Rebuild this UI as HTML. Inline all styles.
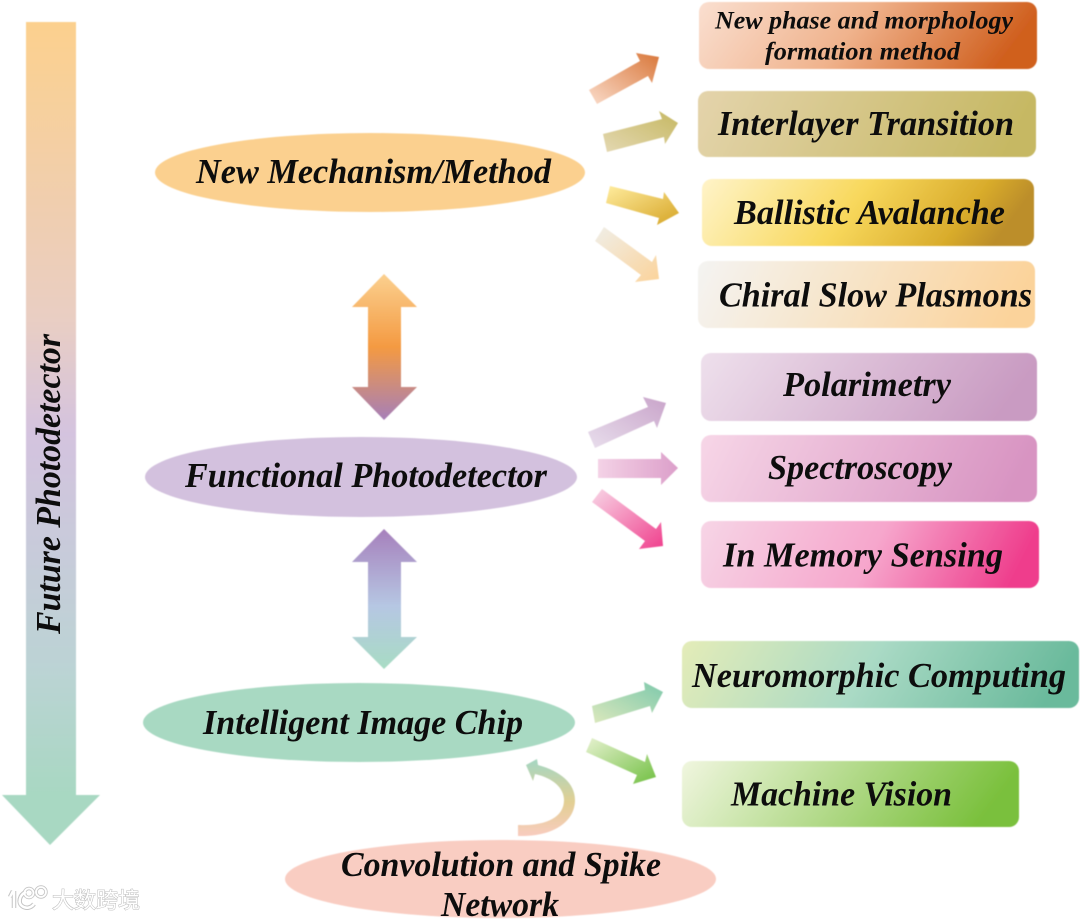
<!DOCTYPE html>
<html lang="en"><head><meta charset="utf-8"><title>Future Photodetector</title>
<style>
html,body{margin:0;padding:0;background:#fff;width:1080px;height:920px;overflow:hidden}
svg{display:block}
.t{font-family:"Liberation Serif",serif;font-weight:bold;font-style:italic;fill:#0b0b0b;font-size:35px}
.wm{font-family:"Noto Sans CJK SC","WenQuanYi Zen Hei",sans-serif;font-size:22px;fill:#fff;stroke:#bbb;stroke-width:1px;paint-order:stroke}
</style></head><body>
<svg width="1080" height="920" viewBox="0 0 1080 920" xmlns="http://www.w3.org/2000/svg">
<defs>
<filter id="b" x="-5%" y="-5%" width="110%" height="110%"><feGaussianBlur stdDeviation="0.5"/></filter>
<filter id="bt" x="-5%" y="-20%" width="110%" height="140%"><feGaussianBlur stdDeviation="0.35"/></filter>
<linearGradient id="main" gradientUnits="userSpaceOnUse" x1="0" y1="22" x2="0" y2="845"><stop offset="0" stop-color="#FCD08E"/><stop offset=".36" stop-color="#E9CEC3"/><stop offset=".5" stop-color="#D4C3DF"/><stop offset=".78" stop-color="#BCD3D5"/><stop offset=".94" stop-color="#A8D8C2"/></linearGradient>
<linearGradient id="d1" gradientUnits="userSpaceOnUse" x1="0" y1="274" x2="0" y2="420"><stop offset="0" stop-color="#FBD08F"/><stop offset=".5" stop-color="#F49A42"/><stop offset="1" stop-color="#A67FB8"/></linearGradient>
<linearGradient id="d2" gradientUnits="userSpaceOnUse" x1="0" y1="529" x2="0" y2="669"><stop offset="0" stop-color="#A680BC"/><stop offset=".55" stop-color="#B6C7E3"/><stop offset="1" stop-color="#A8DCC4"/></linearGradient>
<linearGradient id="c" gradientUnits="userSpaceOnUse" x1="0" y1="762" x2="0" y2="835"><stop offset="0" stop-color="#A8D6C0"/><stop offset=".55" stop-color="#E2CF93"/><stop offset="1" stop-color="#F8CCBE"/></linearGradient>
<linearGradient id="b1" x1="0" y1="0" x2="1" y2=".15"><stop offset="0" stop-color="#FADFD0"/><stop offset=".5" stop-color="#F0B38D"/><stop offset="1" stop-color="#D0601F"/></linearGradient>
<linearGradient id="b2" x1="0" y1="0" x2="1" y2=".1"><stop offset="0" stop-color="#E4D4AC"/><stop offset="1" stop-color="#C6B863"/></linearGradient>
<linearGradient id="b3" x1="0" y1="0" x2="1" y2=".15"><stop offset="0" stop-color="#FFF4C9"/><stop offset=".5" stop-color="#F8D85C"/><stop offset=".85" stop-color="#D9AC2C"/><stop offset="1" stop-color="#BC8E2C"/></linearGradient>
<linearGradient id="b4" x1="0" y1="0" x2="1" y2=".1"><stop offset="0" stop-color="#F4F4F2"/><stop offset="1" stop-color="#FBD39B"/></linearGradient>
<linearGradient id="b5" x1="0" y1="0" x2="1" y2=".15"><stop offset="0" stop-color="#EEE0EC"/><stop offset="1" stop-color="#C99BC2"/></linearGradient>
<linearGradient id="b6" x1="0" y1="0" x2="1" y2=".1"><stop offset="0" stop-color="#F7D6E7"/><stop offset="1" stop-color="#D894C2"/></linearGradient>
<linearGradient id="b7" x1="0" y1="0" x2="1" y2=".1"><stop offset="0" stop-color="#F7D5E6"/><stop offset=".55" stop-color="#F6A6CC"/><stop offset="1" stop-color="#EF3D8C"/></linearGradient>
<linearGradient id="b8" x1="0" y1="0" x2="1" y2=".1"><stop offset="0" stop-color="#E4ECB8"/><stop offset=".5" stop-color="#AADAC5"/><stop offset="1" stop-color="#6ABA9C"/></linearGradient>
<linearGradient id="b9" x1="0" y1="0" x2="1" y2=".15"><stop offset="0" stop-color="#F0F6DF"/><stop offset="1" stop-color="#7AC03C"/></linearGradient>
<linearGradient id="a1" x1="0" y1="1" x2="1" y2="0"><stop offset="0" stop-color="#FADBC9"/><stop offset="1" stop-color="#D9773A"/></linearGradient>
<linearGradient id="a2" x1="0" y1="1" x2="1" y2="0"><stop offset="0" stop-color="#E4D8B2"/><stop offset="1" stop-color="#C6B862"/></linearGradient>
<linearGradient id="a3" x1="0" y1="0" x2="1" y2="1"><stop offset="0" stop-color="#FFEC9E"/><stop offset="1" stop-color="#D6A526"/></linearGradient>
<linearGradient id="a4" x1="0" y1="0" x2="1" y2="1"><stop offset="0" stop-color="#F0EEE8"/><stop offset="1" stop-color="#FBD39A"/></linearGradient>
<linearGradient id="a5" x1="0" y1="1" x2="1" y2="0"><stop offset="0" stop-color="#E8DEEC"/><stop offset="1" stop-color="#C9A4CA"/></linearGradient>
<linearGradient id="a6" x1="0" y1="0" x2="1" y2="0"><stop offset="0" stop-color="#F4D2E6"/><stop offset="1" stop-color="#DC9FCA"/></linearGradient>
<linearGradient id="a7" x1="0" y1="0" x2="1" y2="1"><stop offset="0" stop-color="#F8D5E6"/><stop offset="1" stop-color="#F0408D"/></linearGradient>
<linearGradient id="a8" x1="0" y1="1" x2="1" y2="0"><stop offset="0" stop-color="#DBE8BC"/><stop offset="1" stop-color="#7EC9AC"/></linearGradient>
<linearGradient id="a9" x1="0" y1="0" x2="1" y2="1"><stop offset="0" stop-color="#E6F1CF"/><stop offset="1" stop-color="#72C043"/></linearGradient>
</defs>
<g filter="url(#b)">
<polygon points="26,22 76,22 76,795 100,795 50,845 2,795 26,795" fill="url(#main)"/>
<ellipse cx="370" cy="172.5" rx="215" ry="39.5" fill="#FBD08F"/>
<ellipse cx="361" cy="477" rx="216" ry="40" fill="#D3C1DE"/>
<ellipse cx="359" cy="722.5" rx="216" ry="39.5" fill="#A8D9C2"/>
<ellipse cx="500.5" cy="879" rx="215.5" ry="39" fill="#F9CDC2"/>
<polygon points="384,274 417,307 401,307 401,387 417,387 384,420 352,387 368,387 368,307 352,307" fill="url(#d1)"/>
<polygon points="384,529 417,562 401,562 401,637 417,637 384,669 352,637 368,637 368,562 352,562" fill="url(#d2)"/>
<path d="M518 825 C545 826 564 818 564 800 C564 788 553 778 535 774 L533 781 L526 765 L537 759 L538 765 C560 771 575 783 575 800 C575 822 553 837 518 836 Z" fill="url(#c)"/>
<rect x="699" y="2" width="338" height="67" rx="10" fill="url(#b1)"/>
<rect x="698" y="91" width="338" height="66" rx="10" fill="url(#b2)"/>
<rect x="702" y="179" width="332" height="67" rx="10" fill="url(#b3)"/>
<rect x="698" y="261" width="337" height="67" rx="10" fill="url(#b4)"/>
<rect x="701" y="353" width="336" height="68" rx="10" fill="url(#b5)"/>
<rect x="701" y="435" width="336" height="67" rx="10" fill="url(#b6)"/>
<rect x="701" y="521" width="338" height="67" rx="10" fill="url(#b7)"/>
<rect x="682" y="641" width="397" height="67" rx="10" fill="url(#b8)"/>
<rect x="682" y="761" width="337" height="66" rx="10" fill="url(#b9)"/>
<polygon points="589,90 640,61 636,53 659,57 652,83 648,76 597,104" fill="url(#a1)"/>
<polygon points="603,134 662,119 659,111 678,123 665,144 664,137 607,152" fill="url(#a2)"/>
<polygon points="610,186 663,199 664,192 679,213 657,225 659,218 606,203" fill="url(#a3)"/>
<polygon points="604,227 652,262 656,255 659,279 635,282 641,275 595,241" fill="url(#a4)"/>
<polygon points="588,432 648,407 643,397 666,403 657,428 654,421 595,448" fill="url(#a5)"/>
<polygon points="598,459 661,459 661,452 678,468 661,485 661,478 598,478" fill="url(#a6)"/>
<polygon points="602,489 656,529 661,522 663,546 639,549 645,541 592,502" fill="url(#a7)"/>
<polygon points="592,706 645,690 644,682 663,692 652,713 650,706 595,723" fill="url(#a8)"/>
<polygon points="592,738 645,762 647,754 656,777 633,784 637,775 586,752" fill="url(#a9)"/>
</g>
<g class="t" filter="url(#bt)">
<text x="715" y="28.5" font-size="25" textLength="298" lengthAdjust="spacingAndGlyphs">New phase and morphology</text>
<text x="765" y="59.5" font-size="25" textLength="195" lengthAdjust="spacingAndGlyphs">formation method</text>
<text x="718" y="135" textLength="296" lengthAdjust="spacingAndGlyphs">Interlayer Transition</text>
<text x="734" y="224" textLength="271" lengthAdjust="spacingAndGlyphs">Ballistic Avalanche</text>
<text x="719" y="306.5" textLength="313" lengthAdjust="spacingAndGlyphs">Chiral Slow Plasmons</text>
<text x="783" y="396" textLength="168" lengthAdjust="spacingAndGlyphs">Polarimetry</text>
<text x="768" y="479" textLength="184" lengthAdjust="spacingAndGlyphs">Spectroscopy</text>
<text x="723" y="566.5" textLength="280" lengthAdjust="spacingAndGlyphs">In Memory Sensing</text>
<text x="692" y="687" textLength="374" lengthAdjust="spacingAndGlyphs">Neuromorphic Computing</text>
<text x="731" y="805.5" textLength="221" lengthAdjust="spacingAndGlyphs">Machine Vision</text>
<text x="196" y="183" textLength="355" lengthAdjust="spacingAndGlyphs">New Mechanism/Method</text>
<text x="185" y="487" textLength="362" lengthAdjust="spacingAndGlyphs">Functional Photodetector</text>
<text x="203" y="734" textLength="320" lengthAdjust="spacingAndGlyphs">Intelligent Image Chip</text>
<text x="341" y="876" textLength="320" lengthAdjust="spacingAndGlyphs">Convolution and Spike</text>
<text x="441" y="916" textLength="118" lengthAdjust="spacingAndGlyphs">Network</text>
<text transform="translate(60 634) rotate(-90)" textLength="300" lengthAdjust="spacingAndGlyphs">Future Photodetector</text>
</g>
<g filter="url(#bt)">
<g fill="none" stroke="#c4c4c4" stroke-width="4.5">
<path d="M13 891 L10 897 M14 891 L14 908 M26 892 C19 895 18 903 22 906 C26 909 31 908 34 904"/>
<circle cx="29" cy="893" r="4.5" stroke-width="3.5"/><circle cx="41" cy="892" r="5" stroke-width="3.5"/>
</g>
<g fill="none" stroke="#fff" stroke-width="2.5">
<path d="M13 891 L10 897 M14 891 L14 908 M26 892 C19 895 18 903 22 906 C26 909 31 908 34 904"/>
<circle cx="29" cy="893" r="4.5" stroke-width="1.8"/><circle cx="41" cy="892" r="5" stroke-width="1.8"/>
</g>
<text class="wm" x="52" y="908">大数跨境</text>
</g>
</svg>
</body></html>
